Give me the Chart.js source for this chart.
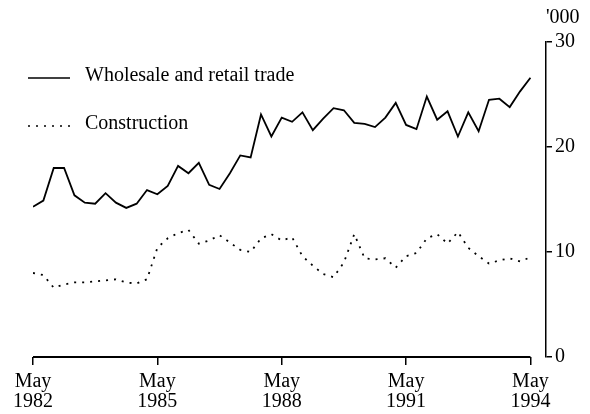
<!DOCTYPE html>
<html>
<head>
<meta charset="utf-8">
<script src="https://cdn.jsdelivr.net/npm/chart.js@4"></script>
<style>
  html, body { margin: 0; padding: 0; background: #fff; }
  #wrap { width: 590px; height: 414px; }
</style>
</head>
<body>
<div id="wrap"><canvas id="chartCanvas" width="590" height="414"></canvas></div>
<script>
// Quartalswerte, Mai 1982 bis Mai 1994 (Index 0..48), in '000
const wholesale = [
  14.3, 14.9, 18.0, 18.0, 15.4, 14.7, 14.6, 15.6, 14.7, 14.2, 14.6, 15.9,
  15.5, 16.3, 18.2, 17.5, 18.5, 16.4, 16.0, 17.5, 19.2, 19.0, 23.1, 21.0,
  22.8, 22.4, 23.3, 21.6, 22.7, 23.7, 23.5, 22.3, 22.2, 21.9, 22.8, 24.2,
  22.1, 21.7, 24.8, 22.6, 23.4, 21.0, 23.3, 21.5, 24.5, 24.6, 23.8, 25.3,
  26.6
];
const construction = [
  8.0, 7.8, 6.6, 6.9, 7.1, 7.1, 7.2, 7.3, 7.4, 7.1, 7.0, 7.4,
  10.4, 11.3, 11.8, 12.1, 10.8, 11.1, 11.6, 10.9, 10.2, 10.0, 11.3, 11.7,
  11.1, 11.4, 9.6, 8.7, 7.9, 7.6, 9.0, 11.7, 9.4, 9.3, 9.4, 8.5,
  9.6, 9.9, 11.3, 11.7, 10.8, 11.9, 10.4, 9.6, 8.9, 9.2, 9.4, 9.1,
  9.5
];
const seriesNames = ['Wholesale and retail trade', 'Construction'];
const tickQuarters = [0, 12, 24, 36, 48];
const tickLabels = [['May', '1982'], ['May', '1985'], ['May', '1988'], ['May', '1991'], ['May', '1994']];
const yTicks = [0, 10, 20, 30];
const unitLabel = "'000";

const ink = '#000';
const font = { family: '"Liberation Serif", "DejaVu Serif", serif', size: 20, lineHeight: 1.0 };
const fontCss = '20px "Liberation Serif", "DejaVu Serif", serif';

const toPoints = arr => arr.map((v, i) => ({ x: i, y: v }));

// x-Achsenlinie nur von erstem bis letztem Quartal, Legende und Einheit
const extras = {
  id: 'extras',
  afterDraw(c) {
    const { ctx, chartArea, scales } = c;
    ctx.save();
    ctx.strokeStyle = ink;
    ctx.lineWidth = 1.8;
    ctx.beginPath();
    ctx.moveTo(scales.x.getPixelForValue(tickQuarters[0]), chartArea.bottom);
    ctx.lineTo(scales.x.getPixelForValue(tickQuarters[tickQuarters.length - 1]), chartArea.bottom);
    ctx.stroke();

    // Legende
    const rows = [
      { y: 76, dash: [] },
      { y: 124, dash: [2, 6] }
    ];
    ctx.font = fontCss;
    ctx.fillStyle = ink;
    ctx.textBaseline = 'middle';
    ctx.textAlign = 'left';
    ctx.lineWidth = 1.6;
    rows.forEach((r, i) => {
      ctx.setLineDash(r.dash);
      ctx.beginPath();
      ctx.moveTo(28, r.y + 2);
      ctx.lineTo(70, r.y + 2);
      ctx.stroke();
      ctx.setLineDash([]);
      ctx.fillText(seriesNames[i], 85, r.y);
    });

    // Einheit über der y-Achse
    ctx.fillText(unitLabel, chartArea.right, 18);
    ctx.restore();
  }
};

const ctx = document.getElementById('chartCanvas').getContext('2d');
const chart = new Chart(ctx, {
  type: 'line',
  data: {
    datasets: [
      {
        label: seriesNames[0],
        data: toPoints(wholesale),
        borderColor: ink,
        borderWidth: 1.8,
        pointRadius: 0,
        tension: 0
      },
      {
        label: seriesNames[1],
        data: toPoints(construction),
        borderColor: ink,
        borderWidth: 1.8,
        borderDash: [2, 6],
        pointRadius: 0,
        tension: 0
      }
    ]
  },
  options: {
    responsive: false,
    animation: false,
    layout: { padding: { top: 42, left: 33, right: 12, bottom: -5 } },
    plugins: {
      legend: { display: false },
      tooltip: { enabled: false }
    },
    scales: {
      x: {
        type: 'linear',
        min: 0,
        max: 49.5,
        afterBuildTicks: s => { s.ticks = tickQuarters.map(v => ({ value: v })); },
        ticks: {
          autoSkip: false,
          maxRotation: 0,
          padding: 7,
          color: ink,
          font,
          callback: (v, i) => tickLabels[i]
        },
        grid: { drawOnChartArea: false, drawTicks: true, tickLength: 8, color: ink, lineWidth: 1.5 },
        border: { display: false }
      },
      y: {
        position: 'right',
        min: 0,
        max: 30,
        afterBuildTicks: s => { s.ticks = yTicks.map(v => ({ value: v })); },
        ticks: { padding: 3, color: ink, font },
        grid: { drawOnChartArea: false, drawTicks: true, tickLength: 6, color: ink, lineWidth: 1.5 },
        border: { display: true, color: ink, width: 1.5 }
      }
    }
  },
  plugins: [extras]
});
</script>
</body>
</html>
